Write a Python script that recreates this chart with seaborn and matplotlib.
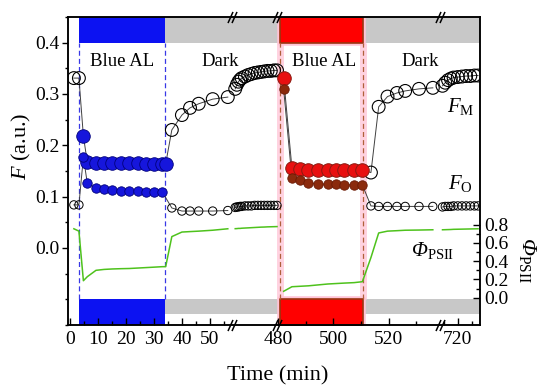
import numpy as np
import pandas as pd
import matplotlib
matplotlib.use('Agg')
import matplotlib.pyplot as plt
import matplotlib.transforms as mtransforms
import seaborn as sns

# ---- values (time in min) ----
t_pre = [1.4, 3.2]
fm_pre = [0.331, 0.331]
fo_pre = [0.084, 0.084]
phi_pre = [0.756, 0.73]

t_blue = [4.8, 6.2, 9.3, 12.2, 15.2, 18.2, 21.2, 24.2, 27.2, 30.2, 33.0, 34.2]
fm_blue = [0.218, 0.167, 0.166, 0.165, 0.165, 0.165, 0.165, 0.165, 0.164, 0.164, 0.164, 0.164]
fo_blue = [0.177, 0.126, 0.117, 0.114, 0.113, 0.112, 0.112, 0.111, 0.110, 0.110, 0.109, np.nan]
phi_blue = [0.186, 0.23, 0.30, 0.31, 0.315, 0.318, 0.32, 0.325, 0.33, 0.335, 0.34, 0.34]

t_dark1 = [36.4, 40, 42.9, 46, 51, 56.4, 90, 105, 120, 135, 150, 180, 210, 240,
           270, 300, 330, 360, 390, 420, 450, 478]
fm_dark1 = [0.230, 0.259, 0.273, 0.281, 0.290, 0.294, 0.310, 0.318, 0.324, 0.328, 0.331,
            0.334, 0.337, 0.339, 0.341, 0.342, 0.343, 0.344, 0.345, 0.345, 0.346, 0.346]
fo_dark1 = [0.078, 0.072, 0.072, 0.072, 0.072, 0.073, 0.079, 0.080, 0.080, 0.081, 0.081,
            0.082, 0.082, 0.082, 0.083, 0.083, 0.083, 0.083, 0.083, 0.083, 0.083, 0.083]
phi_dark1 = [0.67, 0.72, 0.725, 0.73, 0.74, 0.756, 0.757, 0.758, 0.76, 0.76, 0.762, 0.764,
             0.766, 0.768, 0.77, 0.772, 0.774, 0.775, 0.777, 0.778, 0.779, 0.78]

t_red = [482, 485, 488, 491, 494.5, 498, 501, 504, 507.5, 510.5]
fm_red = [0.331, 0.156, 0.153, 0.152, 0.152, 0.152, 0.152, 0.152, 0.152, 0.152]
fo_red = [0.310, 0.136, 0.132, 0.127, 0.125, 0.124, 0.124, 0.123, 0.123, 0.123]
phi_red = [0.07, 0.12, 0.125, 0.13, 0.14, 0.15, 0.155, 0.16, 0.165, 0.175]

t_dark2 = [513.6, 516.4, 519.6, 523, 526, 531, 536, 714.5, 715.5, 716.5, 717.5, 718.5,
           720, 721.5, 723, 724.5, 726, 727.3]
fm_dark2 = [0.147, 0.275, 0.295, 0.302, 0.306, 0.310, 0.312, 0.316, 0.322, 0.327, 0.330,
            0.332, 0.333, 0.334, 0.335, 0.335, 0.336, 0.336]
fo_dark2 = [0.082, 0.081, 0.081, 0.081, 0.081, 0.081, 0.081, 0.080, 0.081, 0.081, 0.081,
            0.082, 0.082, 0.082, 0.082, 0.082, 0.082, 0.082]
phi_dark2 = [0.44, 0.71, 0.73, 0.735, 0.74, 0.742, 0.745, 0.745, 0.746, 0.747, 0.748, 0.75,
             0.751, 0.752, 0.753, 0.754, 0.755, 0.756]

blue_on, blue_off = 3.2, 33.9
red_on, red_off = 480.7, 510.7

xticks = [0, 10, 20, 30, 40, 50, 480, 500, 520, 720]
xminor = [5, 15, 25, 35, 45, 55, 490, 510, 530, 715, 725]

# broken time axis: visible pieces of the time axis and their widths (px)
seg_lo = [-0.7, 60, 479.6, 713.6]
seg_hi = [57.9, 478, 538.6, 728]
seg_px = [164, 45, 163, 40]

xp, fp, acc = [], [], 0.0
for lo, hi, w in zip(seg_lo, seg_hi, seg_px):
    xp += [lo, hi]
    fp += [acc + 1e-3, acc + w]
    acc += w
xp, fp = np.array(xp), np.array(fp)


def fwd(x):
    return np.interp(x, xp, fp)


def inv(y):
    return np.interp(y, fp, xp)


def seg_of(t):
    return np.searchsorted(seg_hi, np.asarray(t, dtype=float))


t_all = t_pre + t_blue + t_dark1 + t_red + t_dark2
df = pd.DataFrame({
    't': t_all,
    'FM': fm_pre + fm_blue + fm_dark1 + fm_red + fm_dark2,
    'FO': fo_pre + fo_blue + fo_dark1 + fo_red + fo_dark2,
    'phi': phi_pre + phi_blue + phi_dark1 + phi_red + phi_dark2,
    'phase': ['dark'] * 2 + ['blue'] * len(t_blue) + ['dark'] * len(t_dark1)
             + ['red'] * len(t_red) + ['dark'] * len(t_dark2),
})
df['seg'] = seg_of(df['t'])

serif = 'Liberation Serif'
plt.rcParams['font.family'] = [serif, 'DejaVu Serif']
plt.rcParams['mathtext.fontset'] = 'custom'
plt.rcParams['mathtext.rm'] = serif
plt.rcParams['mathtext.it'] = serif + ':italic'
# mathtext keeps capital greek upright in \mathit, so use sf for an italic Phi
plt.rcParams['mathtext.sf'] = serif + ':italic'

PHI = r'$\mathsf{Φ}_{\rm PSII}$'

fig = plt.figure(figsize=(5.5, 3.88), dpi=100)
ax = fig.add_axes([68 / 550, 63 / 388, 412 / 550, 308 / 388])
ax.set_xscale('function', functions=(fwd, inv))
ax.set_xlim(seg_lo[0], seg_hi[-1])
ax.set_ylim(-0.15, 0.45)

# light bars, top and bottom
gray = '#c8c8c8'
ax.fill_between([blue_off, red_on], 0.4, 0.45, color=gray, lw=0, zorder=1)
ax.fill_between([red_off, seg_hi[-1]], 0.4, 0.45, color=gray, lw=0, zorder=1)
ax.fill_between([blue_off, red_on], -0.129, -0.1, color=gray, lw=0, zorder=1)
ax.fill_between([red_off, seg_hi[-1]], -0.129, -0.1, color=gray, lw=0, zorder=1)
for y0, y1 in [(0.4, 0.45), (-0.15, -0.1)]:
    ax.fill_between([blue_on, blue_off], y0, y1, color='#0c12f2', lw=0, zorder=1.2)
    ax.fill_between([red_on, red_off], y0, y1, facecolor='#ff0000', edgecolor='#ffc4d6',
                    lw=4, zorder=1.1)
    ax.fill_between([red_on, red_off], y0, y1, facecolor='#ff0000', edgecolor='#9a3510',
                    lw=1.2, zorder=1.2)

ax.vlines([red_on, red_off], -0.1, 0.4, colors='#ffd2e0', lw=5, zorder=1)
ax.vlines([blue_on, blue_off], -0.1, 0.4, colors='#3838e6', lw=0.9,
          linestyles=(0, (4, 2.5)), zorder=1.5)
ax.vlines([red_on, red_off], -0.1, 0.4, colors='#b0603a', lw=0.9,
          linestyles=(0, (4, 2.5)), zorder=1.5)

# connecting lines, split at the axis breaks
for col in ['FM', 'FO']:
    sns.lineplot(data=df.dropna(subset=[col]), x='t', y=col, units='seg', estimator=None,
                 sort=False, color='#404040', lw=0.7, ax=ax, legend=False, zorder=2)

dk = df[df['phase'] == 'dark']
sns.scatterplot(x=dk['t'], y=dk['FM'], s=85, marker='o', facecolor='none',
                edgecolor='black', linewidth=0.8, ax=ax, zorder=3)
sns.scatterplot(x=dk['t'], y=dk['FO'], s=36, marker='o', facecolor='none',
                edgecolor='black', linewidth=0.7, ax=ax, zorder=3)

bl = df[df['phase'] == 'blue']
sns.scatterplot(x=bl['t'], y=bl['FM'], s=95, marker='o', color='#1616dc',
                edgecolor='#00007a', linewidth=0.6, ax=ax, zorder=3)
sns.scatterplot(x=bl['t'], y=bl['FO'], s=46, marker='o', color='#1616dc',
                edgecolor='#00007a', linewidth=0.6, ax=ax, zorder=3)

rd = df[df['phase'] == 'red']
sns.scatterplot(x=rd['t'], y=rd['FM'], s=95, marker='o', color='#e81010',
                edgecolor='#8a1a10', linewidth=0.7, ax=ax, zorder=3)
sns.scatterplot(x=rd['t'], y=rd['FO'], s=46, marker='o', color='#8b2a0c',
                edgecolor='#6a1a05', linewidth=0.6, ax=ax, zorder=3)

# PhiPSII on the right axis
ax2 = ax.twinx()
ax2.set_ylim(-0.3, 3.08)
sns.lineplot(data=df, x='t', y='phi', units='seg', estimator=None, sort=False,
             color='#4ec21c', lw=1.1, ax=ax2, legend=False)

# ticks and labels
fs_tick = 14
ax.set_xticks(xticks)
ax.set_xticks(xminor, minor=True)
ax.set_xticklabels([str(v) for v in xticks], fontsize=fs_tick)
ax.set_yticks([0.0, 0.1, 0.2, 0.3, 0.4])
ax.set_yticks(np.arange(-0.15, 0.451, 0.05), minor=True)
ax.set_yticklabels(['0.0', '0.1', '0.2', '0.3', '0.4'], fontsize=fs_tick)
ax.tick_params(axis='y', which='both', direction='out', left=True, right=False)
ax.tick_params(axis='y', which='major', length=4, width=1, pad=2)
ax.tick_params(axis='y', which='minor', length=2.5, width=1)
ax.tick_params(axis='x', which='both', direction='in', top=False, width=1)
ax.tick_params(axis='x', which='major', length=5, pad=4)
ax.tick_params(axis='x', which='minor', length=3)

ax2.set_yticks([0.0, 0.2, 0.4, 0.6, 0.8])
ax2.set_yticks(np.arange(0.0, 0.81, 0.1), minor=True)
ax2.set_yticklabels(['0.0', '0.2', '0.4', '0.6', '0.8'], fontsize=fs_tick)
ax2.tick_params(axis='y', which='both', direction='in', width=1, pad=3)
ax2.tick_params(axis='y', which='major', length=5)
ax2.tick_params(axis='y', which='minor', length=3)

for a in (ax, ax2):
    for sp in a.spines.values():
        sp.set_linewidth(1.1)

ax.set_xlabel('Time (min)', fontsize=16)
ax.xaxis.set_label_coords(0.51, -0.135)
ax.set_ylabel('$F$ (a.u.)', fontsize=16)
ax.yaxis.set_label_coords(-0.085, 0.58)
ax2.set_ylabel(PHI, fontsize=16, rotation=270)
ax2.yaxis.set_label_coords(1.14, 0.21)

# axis break marks "//" on top and bottom spines
blend = ax.get_xaxis_transform()
for xb in [seg_hi[0], seg_hi[1], seg_hi[2]]:
    for dx in (-1.6, 1.6):
        tr = mtransforms.offset_copy(blend, fig=fig, x=dx, y=0, units='dots')
        for yb in (0, 1):
            ax.plot([xb], [yb], transform=tr, marker=[(-0.45, -1), (0.45, 1)],
                    ms=8, mew=1.1, color='black', ls='none', clip_on=False, zorder=5)

# annotations
ax.text(18.6, 0.363, 'Blue AL', fontsize=13.5, ha='center', va='center')
ax.text(496.8, 0.363, 'Blue AL', fontsize=13.5, ha='center', va='center')
ax.text(53.6, 0.363, 'Dark', fontsize=13.5, ha='center', va='center')
ax.text(531.4, 0.363, 'Dark', fontsize=13.5, ha='center', va='center')
ax.text(721, 0.275, r'$F_{\rm M}$', fontsize=15, ha='center', va='center')
ax.text(721, 0.125, r'$F_{\rm O}$', fontsize=15, ha='center', va='center')
ax.text(536, -0.004, PHI, fontsize=15, ha='center', va='center')

fig.savefig('out.png', dpi=100)
